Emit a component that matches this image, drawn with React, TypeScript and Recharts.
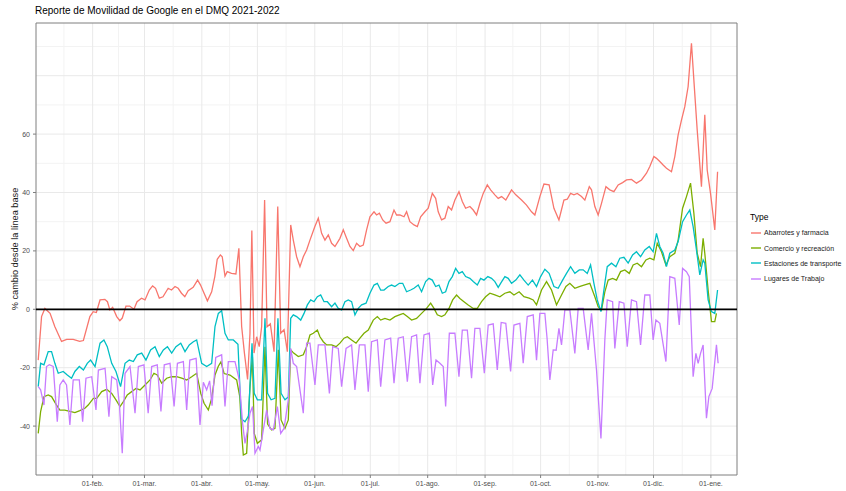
import {
  LineChart,
  Line,
  XAxis,
  YAxis,
  CartesianGrid,
  ReferenceLine,
  ReferenceArea,
} from "recharts";

const FONT = '"Liberation Sans", Arial, Helvetica, sans-serif';

// eje x: días desde el 01-ene-2021
const X_DOMAIN: [number, number] = [0.4, 379.1];
const Y_DOMAIN: [number, number] = [-56.75, 98.05];

const mesesDia = [31, 59, 90, 120, 151, 181, 212, 243, 273, 304, 334, 365];
const mesesEtiqueta = [
  "01-feb.", "01-mar.", "01-abr.", "01-may.", "01-jun.", "01-jul.",
  "01-ago.", "01-sep.", "01-oct.", "01-nov.", "01-dic.", "01-ene.",
];
const mediosMes = [15.5, 45, 74.5, 105, 135.5, 166, 196.5, 227.5, 258, 288.5, 319, 349.5];
const yTicks = [-40, -20, 0, 20, 40, 60];
const yMayores = [-40, -20, 0, 20, 40, 60, 80];
const yMenores = [-50, -30, -10, 10, 30, 50, 70, 90];

// [día, % cambio]
const abarrotes: [number, number][] = [
  [1.6, -17.4], [3.4, -2.5], [5.2, 0.3], [8, -1.4], [10.6, -6], [14.2, -11], [17, -10.3],
  [20.5, -10.3], [24, -11], [26, -10.7], [29.5, -2.5], [31.3, -0.8], [33, -1.1], [35, 3.2],
  [37.6, 3.4], [39, 2.6], [40.3, -0.2], [41.8, 0.7], [44, -2.5], [45.7, -3.9], [47, -3],
  [49, 1.1], [51, 1.1], [53.3, 0], [55, 2.6], [57.4, 3.8], [59.3, 3.2], [61.6, 6.6], [63.4, 8],
  [65, 7.2], [67, 3.8], [69, 4.3], [71.8, 7.2], [73.6, 6.6], [75.5, 7.8], [77.2, 7.2], [79, 5.5],
  [80.8, 4.3], [82.6, 6.4], [85.3, 7.5], [87.7, 10], [89.3, 8.3], [91.2, 5.5], [93, 2.9],
  [95.3, 6], [97, 11.2], [98.3, 17.1], [100, 18.6], [101, 18], [102.5, 11.4], [103.7, 12.9],
  [106, 12.3], [108.4, 12.1], [110, 20.9], [111.5, -5.9], [113, -15], [114.7, -24], [116, -8.2],
  [117, 27], [118.2, -15], [119.6, -9.4], [121, -12.8], [122.3, -6], [123.9, 37.4], [125.2, -6],
  [127, -5], [129, -14.5], [131, 35.2], [132.6, -8.2], [134.4, -7], [136.2, -14.5], [138, 28.9],
  [139.4, 23.7], [141.2, 18], [143, 14.6], [144.8, 18], [146.6, 20.3], [148.4, 23.7], [151, 28.3],
  [152.9, 31.2], [154.7, 26], [156.5, 23.7], [158.3, 25.5], [160.1, 22.6], [161.9, 21.5],
  [164.6, 24.3], [166.4, 27.2], [168.2, 24.3], [170, 21.5], [171.8, 20.1], [173.6, 22.6],
  [175.4, 21.5], [177.2, 22], [179, 27.2], [180.8, 31.7], [183, 33.4], [184.4, 32.3],
  [185.9, 32.9], [187.7, 30.6], [189.5, 29.5], [191.6, 30], [193.8, 34], [195.2, 32.3],
  [197, 32.3], [199.2, 31.7], [200.6, 33.4], [202.4, 30], [204.6, 28.9], [206.4, 28.3],
  [208.2, 31.7], [210.5, 33.4], [212.3, 34.6], [214.5, 39.7], [216.3, 38], [217.7, 33.4],
  [219.5, 30.6], [221.3, 31.2], [223.1, 35.2], [224.9, 34], [226.7, 37.4], [228.9, 40.3],
  [230.7, 36.9], [232.5, 34.6], [234.8, 35.2], [236.6, 34], [238.4, 32.3], [240.2, 36.3],
  [242, 39.7], [244.2, 42.6], [246, 40.9], [248.3, 39.2], [250.1, 38], [251.9, 38.6],
  [254.2, 37.4], [257.3, 40.9], [259.6, 39.2], [262.7, 37.4], [265.4, 35.7], [268.1, 33.4],
  [269.9, 32.3], [272.6, 38.6], [274.8, 42.9], [277.6, 42.6], [280.2, 34.6], [282.9, 30.6],
  [285.6, 37.4], [287.4, 37.7], [289.2, 39.7], [291, 39.2], [292.8, 39.7], [295.1, 38.6],
  [296.9, 37.4], [299.3, 42], [300.5, 40.9], [302.3, 35.2], [304.1, 32.3], [305.9, 36.3],
  [308.3, 42], [310.4, 40.9], [312.6, 40.3], [314.9, 42.6], [317.3, 43.4], [319.4, 44.3],
  [322.1, 44.5], [324.8, 43.2], [327.5, 44.3], [330.2, 46.6], [332, 48.9], [334.2, 52.3],
  [335.6, 51.7], [337.4, 50.6], [339.2, 49.4], [341, 48.3], [343.7, 47.1], [345.5, 52.3],
  [347.3, 59.7], [349.1, 64.8], [350.9, 69.4], [352.7, 76.3], [354.5, 91.1], [355.8, 78.5],
  [357.6, 61.4], [359.9, 42], [361.7, 66.6], [363, 47.7], [364.8, 39.7], [367.1, 27.2],
  [368.6, 47.1],
];

const comercio: [number, number][] = [
  [1.6, -42.5], [2.9, -35], [4.7, -29.9], [7, -29.3], [8.8, -29.9], [11.5, -32.8], [13.3, -34.5],
  [16, -34.5], [18.7, -35], [21.4, -35.4], [24.1, -34.7], [26.8, -33.9], [28.6, -32.8],
  [31.4, -30.5], [33.2, -30.5], [35.9, -28.2], [38.6, -27.4], [41.3, -28.8], [43.6, -31],
  [45.8, -33.3], [47.6, -31.6], [49.7, -29.3], [52.1, -28.2], [54.4, -27.1], [56.6, -27.6],
  [59.3, -25.9], [62, -24.2], [64.1, -21.9], [65.9, -22.5], [68.3, -25.3], [71, -23.6],
  [73.7, -23.1], [76.4, -23.1], [79.1, -23.6], [81.8, -24.2], [84.5, -23.1], [87.2, -21.9],
  [89.4, -28.8], [91.2, -32.2], [93.5, -34.5], [95.3, -30.5], [97.1, -22.5], [98.9, -19.5],
  [100.3, -18], [102, -22], [105.2, -22.5], [108.8, -24.2], [110.5, -30], [111.5, -42.5],
  [112.4, -49.9], [114.2, -49.3], [116, -26.5], [117.3, -16.2], [118.3, -42.5], [120, -45.9],
  [122.3, -44.7], [124.1, -12.8], [125.5, -39.3], [127.7, -41.3], [129.5, -40.8], [131.3, -13.9],
  [132.8, -37.9], [134.9, -40.8], [136.7, -37.9], [138, -13.9], [139.6, -15], [142.1, -16.2],
  [144.8, -15.6], [146.6, -12.8], [148.4, -8.8], [150.2, -8.2], [152.4, -7.1], [153.8, -9.4],
  [155.6, -11.1], [157.4, -12.2], [160.1, -12.2], [162.5, -12.8], [164.6, -11.6], [166.8, -9.9],
  [168.6, -9.4], [170.9, -10.5], [173.3, -11.6], [175.4, -9.9], [177.6, -8.2], [179.9, -7.1],
  [182.6, -3.7], [184.8, -2.5], [186.6, -3.7], [188.9, -3.1], [191.6, -3.7], [194.3, -2.5],
  [196.7, -1.9], [198.8, -1.4], [201, -2.5], [203.3, -3.7], [206, -3.1], [208.7, -1.4],
  [211.4, 0.3], [213.6, 2.1], [215.4, 0.3], [217.2, -1.9], [219.5, -2.5], [221.3, -1.9],
  [223.5, 0.3], [225.5, 3.2], [227.6, 4.9], [229.4, 3.7], [231.6, 2.6], [233.9, 1.5],
  [236.6, 0.3], [238.8, 0.3], [241.1, 2.6], [243.3, 4.3], [245.6, 5.5], [248.3, 4.9], [251, 4.3],
  [253.7, 5.5], [256.4, 6], [258.6, 4.9], [261.4, 6], [264, 4.3], [266.8, 3.8], [269, 3.2],
  [270.8, 1.5], [273.5, 6.6], [276.2, 9.5], [278.9, 6.6], [281.6, 1.5], [284.3, 4.9],
  [286.7, 7.8], [288.8, 8.9], [291.5, 7.2], [293.9, 7.8], [296.4, 8.3], [299.6, 8.9],
  [302.3, 4.3], [304.1, 0.9], [305.9, -0.2], [307.7, 6], [309.5, 10], [311.9, 10.6], [314, 10],
  [316.2, 12.9], [318.5, 13.5], [320.9, 12.3], [323, 15.2], [325.2, 15.8], [327.5, 14.6],
  [329.9, 16.9], [332, 17.5], [334.2, 16.9], [336, 22.6], [338.3, 19.7], [340.7, 15.2],
  [342.8, 18], [345.5, 19.2], [347.3, 23.7], [349.7, 34.6], [351.8, 38.6], [354, 43.2],
  [355.8, 32.9], [357.6, 19.2], [359.4, 14.6], [360.8, 24.3], [361.7, 19.2], [363.5, 6.6],
  [365.3, -4.2], [367.1, -4.2], [368, -1.4],
];

const estaciones: [number, number][] = [
  [1.6, -26.5], [2.9, -18.5], [4.7, -19], [7, -14.5], [8.8, -14.5], [10.6, -18.5], [12.4, -21.9],
  [15.1, -21.3], [17.3, -22.5], [19.6, -23.6], [21.4, -21.3], [23.8, -19.6], [26, -20.8],
  [28.1, -18.5], [29.9, -17.4], [32.3, -19.6], [35, -11.6], [37.1, -10.5], [38.9, -12.8],
  [41.3, -18.5], [43.6, -21.3], [46.1, -26.5], [48.5, -18.5], [50.8, -17.4], [53, -17.9],
  [55.1, -15.6], [57.5, -15], [59.8, -17.4], [62.3, -13.9], [64.7, -12.8], [67, -16.2],
  [69.2, -13.9], [71.4, -12.8], [73.7, -15], [76, -12.8], [78.6, -11.6], [80.9, -14.5],
  [83.2, -12.2], [85.4, -11.1], [87.2, -10.5], [89.9, -18.5], [92.6, -19.6], [95.3, -18.5],
  [97.1, -5.9], [98.9, -1.4], [100.7, -0.5], [102.5, -8.2], [104.3, -10.5], [107, -10.5],
  [109.5, -12], [111.3, -37.5], [113.3, -38.5], [115.2, -36.5], [117.1, -11.6], [118.3, -28.8],
  [120, -31], [122.3, -31], [124.1, -3.1], [125.5, -28.8], [127.4, -31], [129.5, -30.5],
  [131.1, -3.1], [132.8, -28.8], [134.9, -31], [136.7, -30], [138, -3.1], [139.4, -1.9],
  [141.2, -2.5], [143.4, -3.7], [145.2, -1.4], [147, 1.5], [148.8, 3.2], [150.6, 2.6],
  [152.4, 4.3], [154.2, 4.9], [156, 2.6], [157.8, 2.6], [160.1, 0.9], [161.9, 2.1], [163.7, 0.3],
  [165.5, -0.2], [167.3, 2.6], [169.1, 3.2], [170.9, 2.6], [172.7, -1.9], [174.5, 0.3],
  [176.3, 1.5], [178.7, 2.1], [180.8, 5.5], [183, 8.3], [184.8, 8.9], [186.6, 6.6], [188.4, 6.6],
  [190.7, 7.8], [192.5, 8.3], [194.3, 7.8], [196.7, 8.9], [198.5, 8.9], [200.6, 6], [202.8, 6.6],
  [204.6, 7.2], [206.9, 8.3], [208.7, 6], [210.9, 9.5], [212.7, 10.6], [214.5, 10], [216.3, 7.8],
  [218.1, 8.3], [219.9, 5.5], [221.7, 6], [223.5, 9.5], [225.3, 11.2], [227.1, 14], [228.9, 12.3],
  [230.7, 12.9], [232.5, 11.2], [234.8, 10.6], [236.6, 9.5], [238.8, 8.3], [240.6, 10.6],
  [242.4, 10], [244.5, 11.2], [246.5, 10.6], [248.3, 9.5], [250.1, 7.5], [251.4, 8.9],
  [253.7, 11.2], [255.5, 10.6], [257.3, 8.9], [259.6, 10], [261.8, 11.8], [264, 10], [266.3, 8.3],
  [268.6, 10], [270.8, 7.8], [273, 11.2], [275.3, 13.7], [277.6, 12.3], [280.2, 7.8],
  [282.5, 7.2], [284.9, 10], [287, 12.3], [289.2, 14.6], [291.5, 12.3], [293.9, 13.5],
  [296, 13.5], [298.2, 12.3], [300, 15.2], [301.8, 8.9], [303.6, 3.2], [305.6, -0.8],
  [307.7, 8.9], [309, 14.6], [311.3, 15.8], [313.7, 14.6], [315.8, 17.5], [318, 17.8],
  [320.3, 15.8], [322.7, 18.6], [324.8, 19.7], [327, 18], [329.3, 20.3], [331.7, 21.5],
  [333.8, 19.7], [335.6, 26], [337.4, 21.5], [339.2, 19.2], [341, 14.6], [342.8, 19.2],
  [345.5, 20.3], [347.3, 23.2], [349.7, 30], [351.8, 32.3], [353.6, 34], [355.4, 28.3],
  [357.2, 20.3], [359, 11.8], [360.8, 16.9], [361.7, 15.8], [363.5, 3.2], [365.3, -0.8],
  [367.1, -1.4], [368.6, 6.6],
];

const trabajo: [number, number][] = [
  [1.6, -26.5], [2.9, -27.6], [4.7, -32.8], [6.1, -19.6], [7.6, -19], [9.7, -19.6], [11.9, -38.5],
  [13.3, -25.9], [15.1, -24.2], [16.9, -25.9], [18.7, -39.6], [20.5, -24.2], [23.8, -24.2],
  [25.6, -38.5], [27.4, -23.6], [30.5, -23.1], [32.8, -34.5], [34.1, -20.8], [37.7, -20.2],
  [39.8, -36.8], [41.3, -23.1], [44, -24.2], [45.5, -33], [47, -49.3], [48.5, -21.9],
  [51.2, -19.6], [53.9, -35.6], [55.7, -19.6], [58.7, -19], [61, -35.6], [62.9, -19.6],
  [65.9, -19], [67.9, -35], [69.7, -19], [72.8, -18.5], [75, -33.3], [76.8, -18.5], [80, -17.9],
  [81.8, -34.5], [83.5, -17.4], [86.9, -16.8], [89, -39.6], [90.8, -25], [92.6, -27.6],
  [94.2, -24.5], [95.5, -33], [97.5, -16.5], [100.7, -15.6], [102.5, -33.3], [104.3, -17.9],
  [107.9, -17.9], [110.2, -24.2], [112, -39], [113.3, -45.9], [114.5, -42], [116, -35.6],
  [117.4, -33.3], [118.7, -49.3], [120.5, -47], [121.4, -48.2], [123.2, -41.3], [125, -34.5],
  [126.8, -40.8], [128.6, -41.3], [130.8, -33.3], [132.6, -42.5], [134.4, -40.8], [136.7, -31],
  [138, -13.4], [139.4, -18.5], [141.2, -19.6], [143, -27.6], [144.8, -35.6], [146.6, -11.6],
  [148.4, -11.6], [151.1, -25.9], [152.9, -12.2], [156.5, -12.2], [158.9, -28.8], [160.7, -12.8],
  [163.7, -13.4], [165.5, -26.5], [167.9, -13.4], [170.9, -12.2], [172.7, -27.6], [175.1, -12.2],
  [178.1, -12.2], [179.9, -28.2], [181.7, -11.1], [184.8, -10.5], [186.6, -26.5], [188.9, -10.5],
  [192, -9.9], [193.8, -25.3], [196.1, -9.9], [198.8, -9.4], [201, -24.8], [203.3, -9.4],
  [206, -8.8], [207.8, -25.3], [210, -8.8], [212.9, -8.2], [214.7, -25.9], [216.5, -17.4],
  [218.6, -18.5], [220.4, -19.6], [221.7, -33.3], [223.7, -8.2], [226.7, -8.2], [228.9, -23.1],
  [230.7, -7.1], [233.4, -7.1], [235.7, -23.6], [237.5, -6.5], [240.2, -6.5], [242.6, -21.9],
  [244.7, -5.4], [247.4, -5], [249.6, -20.8], [251.7, -4.5], [254.2, -4.8], [256.8, -21.3],
  [258.6, -5.4], [261.8, -4.8], [263.6, -18.5], [265.8, -2.5], [269, -1.9], [270.8, -17.4],
  [272.6, -1.4], [275.3, -1.4], [276.5, -10], [278, -24.2], [279.8, -13.9], [281.4, -14],
  [282.9, -6.5], [284.3, -12.2], [286.1, -0.2], [288.8, -0.2], [291.5, -15.1], [293.3, 0.3],
  [296, 0.3], [298.7, -13.9], [300.5, -1.4], [303.2, -20.8], [305.6, -44.2], [307.7, -10.5],
  [309, 3.2], [311.9, 2.6], [313.1, -13.4], [315.5, 2.6], [318, 2.1], [319.8, -12.8],
  [322.1, 3.2], [324.8, 2.6], [327, -12.2], [329.3, 4.9], [332, 4.9], [333.8, -10.5],
  [335.3, -3.7], [337.4, -4.8], [340.7, -17.9], [342.8, 11.2], [345.5, 10.6], [347.9, -5.4],
  [349.7, 14], [351.8, 12.9], [353.3, 11.2], [355.4, -23.1], [356.9, -15.1], [358.1, -18.5],
  [359.4, -15.1], [360.8, -12.2], [362.6, -37.3], [363.9, -29.9], [365.7, -27.1], [368, -12.2],
  [368.9, -18.5],
];

const series = [
  { name: "Abarrotes y farmacia", color: "#F8766D", data: abarrotes },
  { name: "Comercio y recreación", color: "#7CAE00", data: comercio },
  { name: "Estaciones de transporte", color: "#00BFC4", data: estaciones },
  { name: "Lugares de Trabajo", color: "#C77CFF", data: trabajo },
];

const toRows = (pts: [number, number][]) => pts.map(([d, v]) => ({ d, v }));

const tickLabel = (value: number) => {
  const i = mesesDia.indexOf(value);
  return i >= 0 ? mesesEtiqueta[i] : "";
};

export default function App() {
  return (
    <div
      style={{
        position: "absolute",
        left: 0,
        top: 0,
        width: 846,
        height: 491,
        background: "#fff",
        fontFamily: FONT,
      }}
    >
      <div
        style={{
          position: "absolute",
          left: 35,
          top: 5,
          fontSize: 10,
          lineHeight: "12px",
          color: "#000",
        }}
      >
        Reporte de Movilidad de Google en el DMQ 2021-2022
      </div>

      {/* título del eje y, girado */}
      <div
        style={{
          position: "absolute",
          left: 15,
          top: 249,
          transform: "translate(-50%, -50%) rotate(-90deg)",
          fontSize: 9.2,
          lineHeight: "11px",
          color: "#1a1a1a",
          whiteSpace: "nowrap",
        }}
      >
        % cambio desde la línea base
      </div>

      <LineChart
        width={846}
        height={491}
        margin={{ top: 23, right: 109, bottom: 0, left: 6 }}
      >
        <CartesianGrid
          stroke="#f3f3f3"
          horizontalValues={yMenores}
          verticalValues={mediosMes}
        />
        <CartesianGrid
          stroke="#e9e9e9"
          horizontalValues={yMayores}
          verticalValues={mesesDia}
        />
        <XAxis
          dataKey="d"
          type="number"
          domain={X_DOMAIN}
          allowDataOverflow
          ticks={mesesDia}
          interval={0}
          tickFormatter={tickLabel}
          height={16}
          tickSize={3}
          tickMargin={3}
          axisLine={false}
          tick={{ fontSize: 7, fill: "#4d4d4d", fontFamily: FONT }}
          stroke="#7f7f7f"
        />
        <YAxis
          type="number"
          domain={Y_DOMAIN}
          allowDataOverflow
          ticks={yTicks}
          interval={0}
          width={30}
          tickSize={3}
          tickMargin={3}
          axisLine={false}
          tick={{ fontSize: 7, fill: "#4d4d4d", fontFamily: FONT }}
          stroke="#7f7f7f"
        />
        {series.map((s) => (
          <Line
            key={s.name}
            data={toRows(s.data)}
            dataKey="v"
            name={s.name}
            type="linear"
            stroke={s.color}
            strokeWidth={1.3}
            dot={false}
            activeDot={false}
            isAnimationActive={false}
          />
        ))}
        <ReferenceLine y={0} stroke="#000" strokeWidth={1.8} />
        <ReferenceArea
          x1={X_DOMAIN[0]}
          x2={X_DOMAIN[1]}
          y1={Y_DOMAIN[0]}
          y2={Y_DOMAIN[1]}
          fill="none"
          stroke="#7f7f7f"
          strokeWidth={1}
          ifOverflow="visible"
        />
      </LineChart>

      <div style={{ position: "absolute", left: 750, top: 211, color: "#000" }}>
        <div style={{ fontSize: 8.5, lineHeight: "12px", marginBottom: 2 }}>Type</div>
        {series.map((s) => (
          <div
            key={s.name}
            style={{ display: "flex", alignItems: "center", height: 15.4 }}
          >
            <svg width={14} height={10} style={{ display: "block" }}>
              <line x1={1} x2={11} y1={5} y2={5} stroke={s.color} strokeWidth={1.4} />
            </svg>
            <span style={{ fontSize: 7, color: "#1a1a1a", whiteSpace: "nowrap" }}>
              {s.name}
            </span>
          </div>
        ))}
      </div>
    </div>
  );
}
